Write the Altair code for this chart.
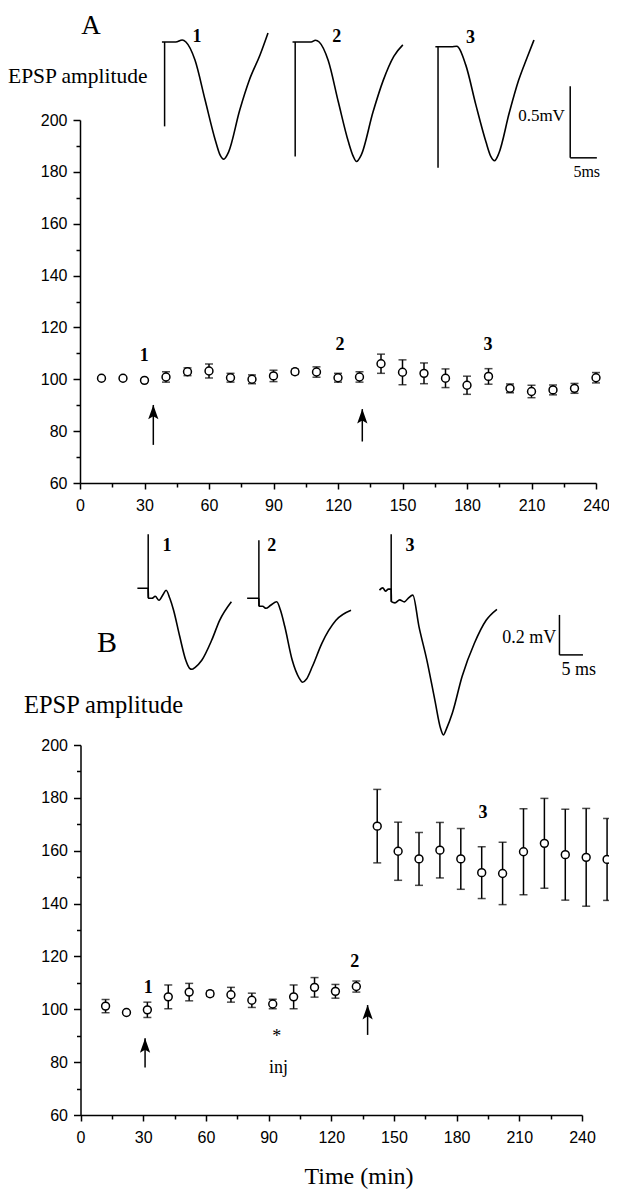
import altair as alt
import pandas as pd

# ---------------- Panel A : EPSP amplitude (% of baseline), mean +/- SEM ----------------
a_time = [10, 20, 30, 40, 50, 60, 70, 80, 90, 100, 110, 120,
          130, 140, 150, 160, 170, 180, 190, 200, 210, 220, 230, 240]
a_mean = [100.4, 100.4, 99.6, 100.9, 102.9, 103.2, 100.6, 100.0, 101.3, 102.9, 102.8, 100.6,
          100.9, 106.0, 102.7, 102.3, 100.4, 97.7, 101.1, 96.5, 95.3, 95.9, 96.5, 100.6]
a_sem = [0.0, 0.0, 0.0, 2.0, 1.5, 2.7, 1.7, 1.7, 2.2, 1.0, 2.0, 1.7,
         2.0, 3.7, 4.8, 4.0, 3.6, 3.5, 3.0, 1.7, 2.4, 1.9, 1.9, 2.0]
a_lbl_text = ["1", "2", "3"]
a_lbl_t = [29.9, 120.9, 189.8]
a_lbl_v = [108.8, 113.3, 113.3]
a_arrow_t = [34.1, 131.3]
a_arrow_tail = [74.7, 76.0]
a_arrow_tip = [90.1, 88.5]

# ---------------- Panel B ----------------
b_time = [12, 22, 32, 42, 52, 62, 72, 82, 92, 102, 112, 122, 132,
          142, 152, 162, 172, 182, 192, 202, 212, 222, 232, 242, 252]
b_mean = [101.2, 98.8, 99.8, 104.7, 106.5, 105.9, 105.5, 103.4, 102.0, 104.7, 108.3, 106.8, 108.6,
          169.3, 159.8, 156.9, 160.2, 156.9, 151.7, 151.4, 159.6, 162.8, 158.5, 157.5, 156.7]
b_sem = [2.5, 0.0, 2.9, 4.5, 3.3, 1.0, 2.8, 2.7, 1.8, 4.5, 3.7, 2.6, 2.1,
         13.9, 11.0, 10.0, 10.5, 11.5, 9.8, 11.8, 16.3, 17.0, 17.2, 18.5, 15.5]
b_lbl_text = ["1", "2", "3"]
b_lbl_t = [32.4, 131.3, 192.6]
b_lbl_v = [107.9, 118.0, 174.2]
b_arrow_t = [30.9, 137.4]
b_arrow_tail = [78.0, 90.3]
b_arrow_tip = [89.0, 101.6]
b_note_text = ["*", "inj"]
b_note_t = [93.9, 94.8]
b_note_v = [89.6, 77.7]

# ---------------- Sample EPSP traces (ms after stimulus, mV) ----------------
a1_ms = [-0.5, 0, 2.1, 3.3, 4.0, 5.7, 7.6, 9.5, 10.4, 11.1, 12.0, 14.1, 15.9, 17.9, 19.4]
a1_mv = [0.0, 0.0, 0.0, 0.014, 0.0, -0.126, -0.406, -0.685, -0.79, -0.82, -0.77, -0.476, -0.266, -0.091, 0.063]
a2_ms = [-0.5, 0, 3.0, 3.8, 4.5, 6.2, 8.1, 10.0, 10.9, 11.5, 12.4, 14.6, 16.5, 18.5, 20.2]
a2_mv = [0.0, 0.0, 0.0, 0.012, 0.0, -0.13, -0.42, -0.70, -0.80, -0.836, -0.79, -0.49, -0.27, -0.10, -0.02]
a3_ms = [-0.5, 0, 2.5, 3.5, 5.2, 7.1, 9.0, 9.9, 10.6, 11.4, 13.4, 15.1, 16.7, 18.0]
a3_mv = [-0.033, -0.033, -0.033, -0.03, -0.16, -0.44, -0.70, -0.80, -0.83, -0.78, -0.49, -0.27, -0.11, 0.014]
a_spike_top = [0.0, 0.0, -0.033]
a_spike_bottom = [-0.59, -0.80, -0.88]
a_trace_shift = [0.0, 24.5, 51.3]
a_trace_lbl = ["1", "2", "3"]
a_trace_lbl_ms = [6.1, 32.3, 57.4]
a_trace_lbl_mv = [0.037, 0.037, 0.026]
a_bar_ms, a_bar_mv, a_bar_dms, a_bar_dmv = 76.1, -0.81, 5.0, 0.5

b1_ms = [-2.3, 0, 0.05, 0.8, 1.5, 2.3, 3.2, 3.8, 4.6, 5.4, 6.7, 8.0, 8.8, 9.3, 10.0, 11.4, 13.5, 15.2, 17.7]
b1_mv = [0.0, 0.0, -0.05, -0.05, -0.04, -0.06, -0.03, -0.01, -0.05, -0.11, -0.24, -0.36, -0.40, -0.405,
         -0.395, -0.36, -0.26, -0.16, -0.067]
b2_ms = [-2.5, 0, 0.05, 0.8, 1.5, 2.5, 3.8, 4.6, 5.5, 7.1, 8.6, 9.3, 10.1, 11.4, 13.4, 16.4, 19.6]
b2_mv = [-0.05, -0.05, -0.09, -0.09, -0.10, -0.085, -0.067, -0.11, -0.19, -0.36, -0.45, -0.47, -0.455,
         -0.39, -0.275, -0.16, -0.11]
b3_ms = [-2.5, -1.8, -1.2, -0.6, 0, 0.05, 0.8, 1.8, 2.8, 3.6, 4.6, 5.9, 7.6, 9.3, 10.5, 11.1, 11.8,
         13.0, 15.1, 17.7, 20.2, 22.5]
b3_mv = [-0.009, 0.002, -0.014, -0.004, -0.004, -0.067, -0.073, -0.058, -0.068, -0.05, -0.034, -0.19,
         -0.36, -0.56, -0.70, -0.733, -0.70, -0.625, -0.44, -0.275, -0.16, -0.105]
b_spike_top = [0.27, 0.24, 0.27]
b_spike_bottom = [-0.05, -0.09, -0.067]
b_trace_shift = [0.0, 23.55, 51.7]
b_trace_lbl = ["1", "2", "3"]
b_trace_lbl_ms = [4.0, 26.3, 55.7]
b_trace_lbl_mv = [0.21, 0.21, 0.21]
b_bar_ms, b_bar_mv, b_bar_dms, b_bar_dmv = 87.5, -0.333, 5.0, 0.2

# ---------------- layout (pixels inside the 601x1183 view) ----------------
W, H = 601, 1183
M = 8  # page margin

SERIF = "Liberation Serif"
SANS = "Liberation Sans"


def sc(domain, rng):
    return alt.Scale(domain=domain, range=rng, nice=False, zero=False)


def axis_common(**kw):
    base = dict(title=None, grid=False, labelFont=SANS, labelFontSize=16, labelColor="black",
                domainColor="black", domainWidth=1.5, tickColor="black", tickWidth=1.5,
                labelOverlap=False)
    base.update(kw)
    return alt.Axis(**base)


def y_major(offset):
    return axis_common(orient="left", offset=offset, values=list(range(60, 201, 20)),
                       tickSize=7, labelPadding=6)


def y_minor(offset):
    return axis_common(orient="left", offset=offset, values=list(range(70, 200, 20)),
                       tickSize=4, labels=False, domain=False)


def x_major(offset):
    return axis_common(orient="bottom", offset=offset, values=list(range(0, 241, 30)),
                       tickSize=6, labelPadding=8, labelFlush=False)


def x_minor(offset):
    return axis_common(orient="bottom", offset=offset, values=list(range(15, 240, 30)),
                       tickSize=4, labels=False, domain=False)


ARROW = "M0,0 L0.5,1.4 L0,1.1 L-0.5,1.4 Z"


def panel(time, mean, sem, lbl_text, lbl_t, lbl_v, ar_t, ar_tail, ar_tip, xs, ys, xo, yo,
          notes=None):
    df = pd.DataFrame({"t": time, "m": mean,
                       "lo": [m - s for m, s in zip(mean, sem)],
                       "hi": [m + s for m, s in zip(mean, sem)]})
    err = alt.Chart(df).mark_errorbar(ticks=True, size=8, thickness=1.5, color="black").encode(
        x=alt.X("t:Q", scale=xs, axis=None),
        y=alt.Y("lo:Q", scale=ys, axis=None),
        y2="hi:Q")
    pts = alt.Chart(df).mark_point(filled=True, fill="white", stroke="black", strokeWidth=1.5,
                                   size=62, opacity=1).encode(
        x=alt.X("t:Q", scale=xs, axis=x_major(xo)),
        y=alt.Y("m:Q", scale=ys, axis=y_major(yo)))
    ldf = pd.DataFrame({"t": lbl_t, "v": lbl_v, "txt": lbl_text})
    lbl = alt.Chart(ldf).mark_text(font=SERIF, fontWeight="bold", fontSize=18, color="black",
                                   baseline="middle").encode(
        x=alt.X("t:Q", scale=xs, axis=x_minor(xo)), y=alt.Y("v:Q", scale=ys, axis=y_minor(yo)),
        text="txt:N")
    adf = pd.DataFrame({"t": ar_t, "tail": ar_tail, "tip": ar_tip})
    shaft = alt.Chart(adf).mark_rule(strokeWidth=1.5, color="black").encode(
        x=alt.X("t:Q", scale=xs, axis=None), y=alt.Y("tail:Q", scale=ys, axis=None), y2="tip:Q")
    head = alt.Chart(adf).mark_point(shape=ARROW, filled=True, fill="black", strokeWidth=0,
                                     size=420, opacity=1).encode(
        x=alt.X("t:Q", scale=xs, axis=None), y=alt.Y("tip:Q", scale=ys, axis=None))
    layers = [err, pts, lbl, shaft, head]
    if notes is not None:
        ndf = pd.DataFrame({"t": notes[1], "v": notes[2], "txt": notes[0]})
        layers.append(alt.Chart(ndf).mark_text(font=SERIF, fontSize=18, color="black",
                                               baseline="middle").encode(
            x=alt.X("t:Q", scale=xs, axis=None), y=alt.Y("v:Q", scale=ys, axis=None), text="txt:N"))
    return alt.layer(*layers).resolve_axis(x="independent", y="independent")


def traces(traces_ms, traces_mv, spike_top, spike_bottom, shifts, lbls, lbl_ms, lbl_mv, bar,
           bar_txt, xs, ys):
    rows = []
    for k, (ms, mv) in enumerate(zip(traces_ms, traces_mv)):
        for i, (t, v) in enumerate(zip(ms, mv)):
            rows.append({"tr": k, "i": i, "t": t + shifts[k], "v": v})
    df = pd.DataFrame(rows)
    line = alt.Chart(df).mark_line(color="black", strokeWidth=1.6, interpolate="monotone").encode(
        x=alt.X("t:Q", scale=xs, axis=None), y=alt.Y("v:Q", scale=ys, axis=None),
        detail="tr:N", order="i:Q")
    sdf = pd.DataFrame({"t": shifts, "top": spike_top, "bot": spike_bottom})
    spike = alt.Chart(sdf).mark_rule(color="black", strokeWidth=1.5).encode(
        x=alt.X("t:Q", scale=xs, axis=None), y=alt.Y("top:Q", scale=ys, axis=None), y2="bot:Q")
    b_ms, b_mv, b_dms, b_dmv = bar
    bdf = pd.DataFrame({"x": [b_ms, b_ms], "x2": [b_ms, b_ms + b_dms],
                        "y": [b_mv, b_mv], "y2": [b_mv + b_dmv, b_mv]})
    sbar = alt.Chart(bdf).mark_rule(color="black", strokeWidth=1.5).encode(
        x=alt.X("x:Q", scale=xs, axis=None), x2="x2:Q",
        y=alt.Y("y:Q", scale=ys, axis=None), y2="y2:Q")
    ldf = pd.DataFrame({"t": lbl_ms, "v": lbl_mv, "txt": lbls})
    lbl = alt.Chart(ldf).mark_text(font=SERIF, fontWeight="bold", fontSize=18, color="black",
                                   baseline="middle").encode(
        x=alt.X("t:Q", scale=xs, axis=None), y=alt.Y("v:Q", scale=ys, axis=None), text="txt:N")
    (v_txt, v_ms, v_mv, v_fs), (h_txt, h_ms, h_mv, h_fs) = bar_txt
    vt = alt.Chart(pd.DataFrame({"t": [v_ms], "v": [v_mv], "txt": [v_txt]})).mark_text(
        font=SERIF, fontSize=v_fs, color="black", align="right", baseline="middle").encode(
        x=alt.X("t:Q", scale=xs, axis=None), y=alt.Y("v:Q", scale=ys, axis=None), text="txt:N")
    ht = alt.Chart(pd.DataFrame({"t": [h_ms], "v": [h_mv], "txt": [h_txt]})).mark_text(
        font=SERIF, fontSize=h_fs, color="black", align="center", baseline="middle").encode(
        x=alt.X("t:Q", scale=xs, axis=None), y=alt.Y("v:Q", scale=ys, axis=None), text="txt:N")
    return alt.layer(line, spike, sbar, lbl, vt, ht)


# panel A
xA = sc([0, 240], [80 - M, 596 - M])
yA = sc([60, 200], [483 - M, 120 - M])
panelA = panel(a_time, a_mean, a_sem, a_lbl_text, a_lbl_t, a_lbl_v, a_arrow_t, a_arrow_tail,
               a_arrow_tip, xA, yA, (483 - M) - H, -(80 - M))

# panel B
xB = sc([0, 240], [80.5 - M, 582 - M])
yB = sc([60, 200], [1115 - M, 745 - M])
panelB = panel(b_time, b_mean, b_sem, b_lbl_text, b_lbl_t, b_lbl_v, b_arrow_t, b_arrow_tail,
               b_arrow_tip, xB, yB, (1115 - M) - H, -(80.5 - M),
               notes=(b_note_text, b_note_t, b_note_v))

# trace insets
txA = sc([0, 80], [164.6 - M, 164.6 + 5.33 * 80 - M])
tyA = sc([-1, 0.5], [42 - M + 143 * 1, 42 - M - 143 * 0.5])
trA = traces([a1_ms, a2_ms, a3_ms], [a1_mv, a2_mv, a3_mv], a_spike_top, a_spike_bottom,
             a_trace_shift, a_trace_lbl, a_trace_lbl_ms, a_trace_lbl_mv,
             (a_bar_ms, a_bar_mv, a_bar_dms, a_bar_dmv),
             (("0.5mV", 75.1, -0.52, 17), ("5ms", 79.2, -0.91, 16)), txA, tyA)

txB = sc([0, 100], [148.2 - M, 148.2 + 4.7 * 100 - M])
tyB = sc([-1, 0.5], [588.3 - M + 200 * 1, 588.3 - M - 200 * 0.5])
trB = traces([b1_ms, b2_ms, b3_ms], [b1_mv, b2_mv, b3_mv], b_spike_top, b_spike_bottom,
             b_trace_shift, b_trace_lbl, b_trace_lbl_ms, b_trace_lbl_mv,
             (b_bar_ms, b_bar_mv, b_bar_dms, b_bar_dmv),
             (("0.2 mV", 86.8, -0.25, 18), ("5 ms", 91.6, -0.41, 18)), txB, tyB)


# free text (panel letters, titles)
def free_text(txt, px, py, size, align="center"):
    return alt.Chart(alt.Data(values=[{}])).mark_text(
        text=txt, font=SERIF, fontSize=size, color="black", align=align, baseline="middle").encode(
        x=alt.value(px - M), y=alt.value(py - M))


texts = [
    free_text("A", 91, 26, 27),
    free_text("B", 107, 643, 30),
    free_text("EPSP amplitude", 8, 77, 21.5, align="left"),
    free_text("EPSP amplitude", 24, 706, 24.5, align="left"),
    free_text("Time (min)", 359, 1177, 24),
]

chart = alt.layer(panelA, panelB, trA, trB, *texts).resolve_scale(
    x="independent", y="independent"
).properties(
    width=W, height=H, padding=0, autosize=alt.AutoSizeParams(type="none")
).configure_view(stroke=None)

chart.save("out.html", embed_options={"renderer": "svg", "actions": False})
